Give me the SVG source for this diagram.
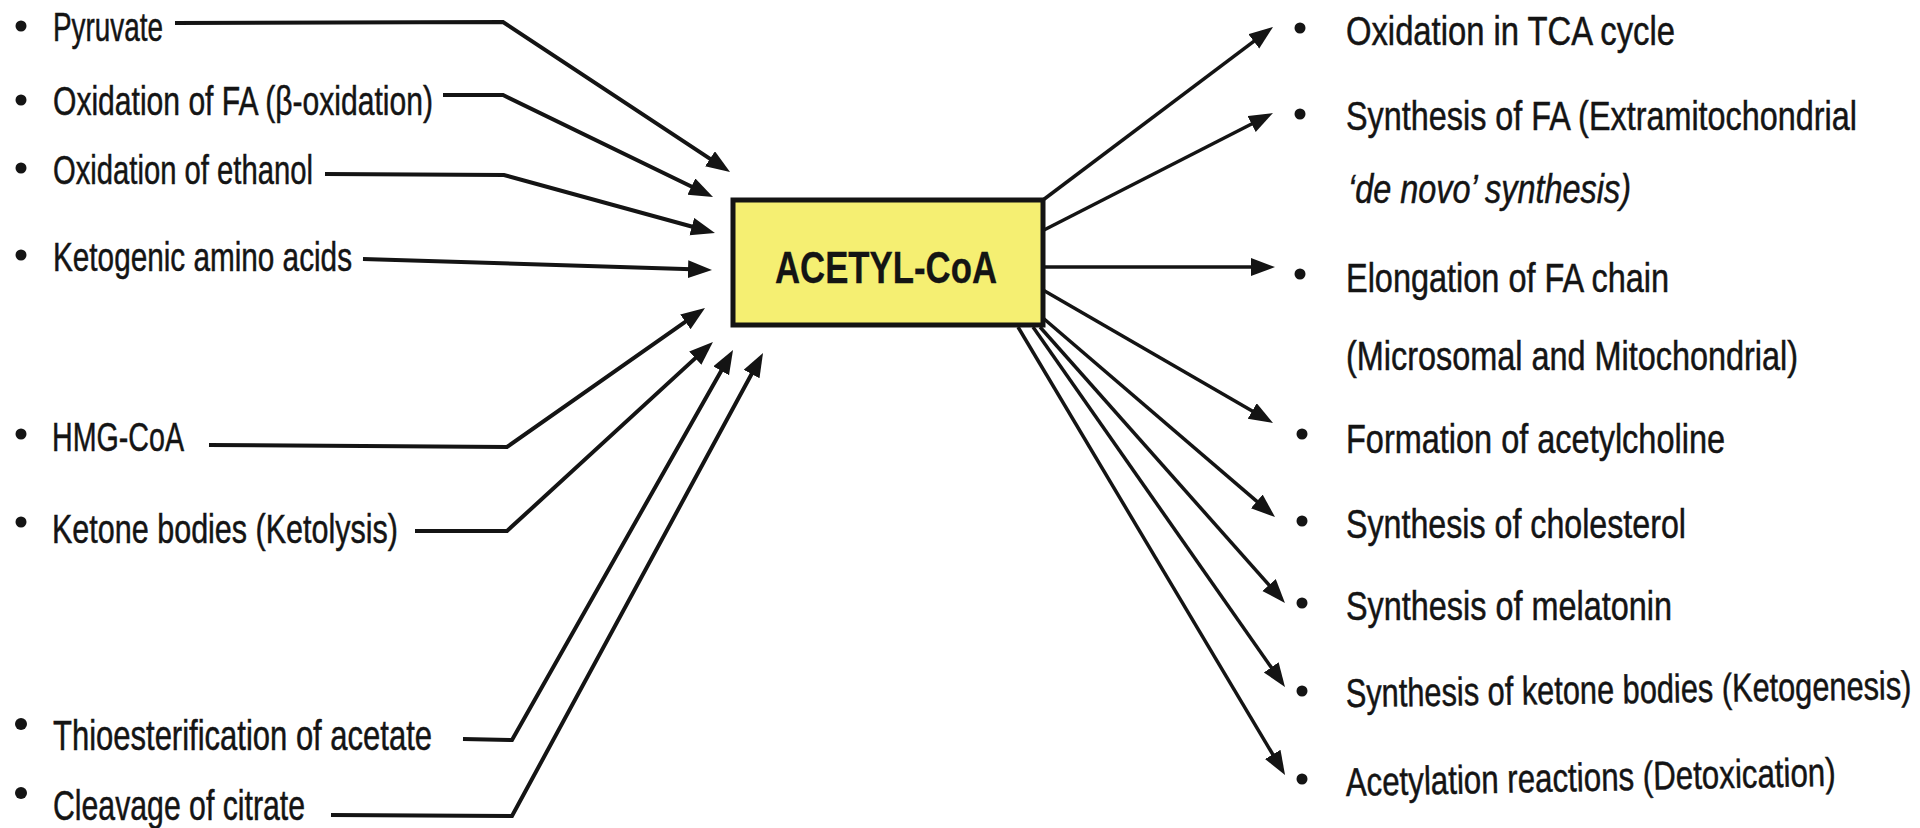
<svg xmlns="http://www.w3.org/2000/svg" width="1920" height="828" viewBox="0 0 1920 828">
<style>
  text { font-family: "Liberation Sans", Arial, sans-serif; fill: #141414; stroke: #141414; stroke-width: 0.5; font-size: 40px; }
  .it { font-style: italic; }
  .big { font-size: 42px; }
  .title { font-weight: bold; font-size: 44px; stroke-width: 0.3; text-anchor: middle; }
  .bul { fill: #141414; }
  .conn { fill: none; stroke: #141414; stroke-width: 4; stroke-linejoin: miter; }
  .connr { fill: none; stroke: #141414; stroke-width: 3.5; }
</style>
<defs>
  <marker id="ah" markerUnits="userSpaceOnUse" markerWidth="26" markerHeight="20" refX="12" refY="9" orient="auto">
    <path d="M0,0 L24,9 L0,18 z" fill="#141414"/>
  </marker>
</defs>
<rect width="1920" height="828" fill="#ffffff"/>

<g id="connectors">
  <path class="conn" d="M175,23 L503,22 L720.0,165.4" marker-end="url(#ah)"/>
  <path class="conn" d="M443,95 L503,95 L702.2,191.8" marker-end="url(#ah)"/>
  <path class="conn" d="M325,174 L504,175 L703.4,229.8" marker-end="url(#ah)"/>
  <path class="conn" d="M363,259 L700.0,269.6" marker-end="url(#ah)"/>
  <path class="conn" d="M209,445 L507,447 L695.2,314.9" marker-end="url(#ah)"/>
  <path class="conn" d="M415,531 L507,531 L704.1,350.1" marker-end="url(#ah)"/>
  <path class="conn" d="M463,739 L512,740 L727.1,360.4" marker-end="url(#ah)"/>
  <path class="conn" d="M331,815 L512,816 L757.3,363.5" marker-end="url(#ah)"/>

  <path class="connr" d="M1043,200 L1263.4,34.2" marker-end="url(#ah)"/>
  <path class="connr" d="M1044,230 L1262.3,118.5" marker-end="url(#ah)"/>
  <path class="connr" d="M1044,267 L1263,267" marker-end="url(#ah)"/>
  <path class="connr" d="M1043,290 L1262.6,417.0" marker-end="url(#ah)"/>
  <path class="connr" d="M1043,318 L1265.9,509.2" marker-end="url(#ah)"/>
  <path class="connr" d="M1040,327 L1277.0,594.0" marker-end="url(#ah)"/>
  <path class="connr" d="M1033,327 L1278.1,677.2" marker-end="url(#ah)"/>
  <path class="connr" d="M1018,327 L1278.9,764.7" marker-end="url(#ah)"/>
</g>

<g id="acetyl-coa">
  <rect x="733" y="200" width="310" height="125" fill="#F5EF72" stroke="#141414" stroke-width="5"/>
  <text class="title" x="886" y="283" textLength="222" lengthAdjust="spacingAndGlyphs">ACETYL-CoA</text>
</g>

<g id="src-pyruvate">
  <circle class="bul" cx="21" cy="26" r="5.5"/>
  <text x="53" y="41" textLength="110" lengthAdjust="spacingAndGlyphs">Pyruvate</text>
</g>
<g id="src-beta-oxidation">
  <circle class="bul" cx="21" cy="100" r="5.5"/>
  <text x="53" y="115" textLength="380" lengthAdjust="spacingAndGlyphs">Oxidation of FA (β-oxidation)</text>
</g>
<g id="src-ethanol">
  <circle class="bul" cx="21" cy="168" r="5.5"/>
  <text x="53" y="184" textLength="260" lengthAdjust="spacingAndGlyphs">Oxidation of ethanol</text>
</g>
<g id="src-ketogenic">
  <circle class="bul" cx="21" cy="255" r="5.5"/>
  <text x="53" y="271" textLength="299" lengthAdjust="spacingAndGlyphs">Ketogenic amino acids</text>
</g>
<g id="src-hmg">
  <circle class="bul" cx="21" cy="434" r="5.5"/>
  <text x="52" y="451" textLength="132" lengthAdjust="spacingAndGlyphs">HMG-CoA</text>
</g>
<g id="src-ketolysis">
  <circle class="bul" cx="21" cy="522" r="5.5"/>
  <text x="52" y="543" textLength="346" lengthAdjust="spacingAndGlyphs">Ketone bodies (Ketolysis)</text>
</g>
<g id="src-thioester">
  <circle class="bul" cx="21" cy="724" r="6"/>
  <text class="big" x="53" y="750" textLength="379" lengthAdjust="spacingAndGlyphs">Thioesterification of acetate</text>
</g>
<g id="src-citrate">
  <circle class="bul" cx="21" cy="793" r="6"/>
  <text class="big" x="53" y="820" textLength="252" lengthAdjust="spacingAndGlyphs">Cleavage of citrate</text>
</g>

<g id="out-tca">
  <circle class="bul" cx="1300" cy="28" r="5.5"/>
  <text x="1346" y="45" textLength="329" lengthAdjust="spacingAndGlyphs">Oxidation in TCA cycle</text>
</g>
<g id="out-fa-synthesis">
  <circle class="bul" cx="1300" cy="114" r="5.5"/>
  <text x="0" y="0" transform="translate(1346 130) scale(0.7 1)" textLength="730" lengthAdjust="spacingAndGlyphs">Synthesis of FA (Extramitochondrial</text>
  <text class="it" x="1348" y="203" textLength="283" lengthAdjust="spacingAndGlyphs">‘de novo’ synthesis)</text>
</g>
<g id="out-elongation">
  <circle class="bul" cx="1300" cy="274" r="5.5"/>
  <text x="1346" y="292" textLength="323" lengthAdjust="spacingAndGlyphs">Elongation of FA chain</text>
  <text x="1346" y="370" textLength="452" lengthAdjust="spacingAndGlyphs">(Microsomal and Mitochondrial)</text>
</g>
<g id="out-acetylcholine">
  <circle class="bul" cx="1302" cy="434" r="5.5"/>
  <text x="1346" y="453" textLength="379" lengthAdjust="spacingAndGlyphs">Formation of acetylcholine</text>
</g>
<g id="out-cholesterol">
  <circle class="bul" cx="1302" cy="521" r="5.5"/>
  <text x="1346" y="538" textLength="340" lengthAdjust="spacingAndGlyphs">Synthesis of cholesterol</text>
</g>
<g id="out-melatonin">
  <circle class="bul" cx="1302" cy="603" r="5.5"/>
  <text x="1346" y="620" textLength="326" lengthAdjust="spacingAndGlyphs">Synthesis of melatonin</text>
</g>
<g id="out-ketogenesis">
  <circle class="bul" cx="1302" cy="691" r="5.5"/>
  <text x="0" y="0" transform="rotate(-0.8 1346 707) translate(1346 707) scale(0.7 1)" textLength="808" lengthAdjust="spacingAndGlyphs">Synthesis of ketone bodies (Ketogenesis)</text>
</g>
<g id="out-acetylation">
  <circle class="bul" cx="1302" cy="779" r="5.5"/>
  <text x="0" y="0" transform="rotate(-1.2 1346 796) translate(1346 796) scale(0.7 1)" textLength="700" lengthAdjust="spacingAndGlyphs">Acetylation reactions (Detoxication)</text>
</g>
</svg>
